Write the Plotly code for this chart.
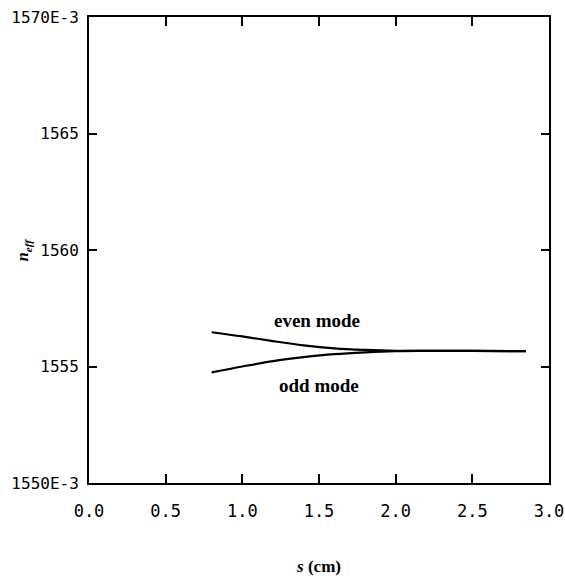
import plotly.graph_objects as go

# Data
s_cm = [0.80, 1.00, 1.20, 1.40, 1.60, 1.80, 2.00, 2.20, 2.50, 2.85]
n_even = [1.55647, 1.55629, 1.55609, 1.55591, 1.55578, 1.55571, 1.55567, 1.55567, 1.55567, 1.55566]
n_odd = [1.55475, 1.55500, 1.55523, 1.55540, 1.55553, 1.55561, 1.55566, 1.55567, 1.55567, 1.55566]

x_ticks = [0.0, 0.5, 1.0, 1.5, 2.0, 2.5, 3.0]
x_ticktext = ["0.0", "0.5", "1.0", "1.5", "2.0", "2.5", "3.0"]
y_ticks = [1.550, 1.555, 1.560, 1.565, 1.570]
y_ticktext = ["1550E-3", "1555", "1560", "1565", "1570E-3"]

labels = ["even mode", "odd mode"]
label_s = [1.49, 1.50]
label_n = [1.55697, 1.55418]

fig = go.Figure()
for ys in (n_even, n_odd):
    fig.add_trace(go.Scatter(x=s_cm, y=ys, mode="lines",
                             line=dict(color="black", width=2.2, shape="spline"),
                             showlegend=False, hoverinfo="skip"))

for txt, xx, yy in zip(labels, label_s, label_n):
    fig.add_annotation(x=xx, y=yy, text="<b>" + txt + "</b>", showarrow=False,
                       font=dict(family="Liberation Serif", size=19, color="black"))

# y-axis title placed as rotated annotation
fig.add_annotation(xref="paper", yref="paper", x=-0.143, y=0.5,
                   text="<b><i>n</i><sub><i>eff</i></sub></b>", showarrow=False,
                   textangle=-90, xanchor="center", yanchor="middle",
                   font=dict(family="Liberation Serif", size=16, color="black"))

mono = "DejaVu Sans Mono"
fig.update_layout(
    width=565, height=582,
    margin=dict(l=89, r=16, t=17, b=99, autoexpand=False),
    plot_bgcolor="white", paper_bgcolor="white",
    xaxis=dict(range=[0, 3.0], tickvals=x_ticks, ticktext=x_ticktext,
               ticks="inside", ticklen=9, tickwidth=1.5, tickcolor="black",
               showline=True, linewidth=2, linecolor="black", mirror="ticks",
               showgrid=False, zeroline=False, automargin=False,
               ticklabelstandoff=12,
               tickfont=dict(family=mono, size=17, color="black"),
               title=dict(text="<b><i>s</i> (cm)</b>", standoff=40,
                          font=dict(family="Liberation Serif", size=17, color="black"))),
    yaxis=dict(range=[1.550, 1.570], tickvals=y_ticks, ticktext=y_ticktext,
               ticks="inside", ticklen=8, tickwidth=1.5, tickcolor="black",
               showline=True, linewidth=2, linecolor="black", mirror="ticks",
               showgrid=False, zeroline=False, automargin=False,
               ticklabelstandoff=5,
               tickfont=dict(family=mono, size=16, color="black")),
)

fig.write_html("out.html")
